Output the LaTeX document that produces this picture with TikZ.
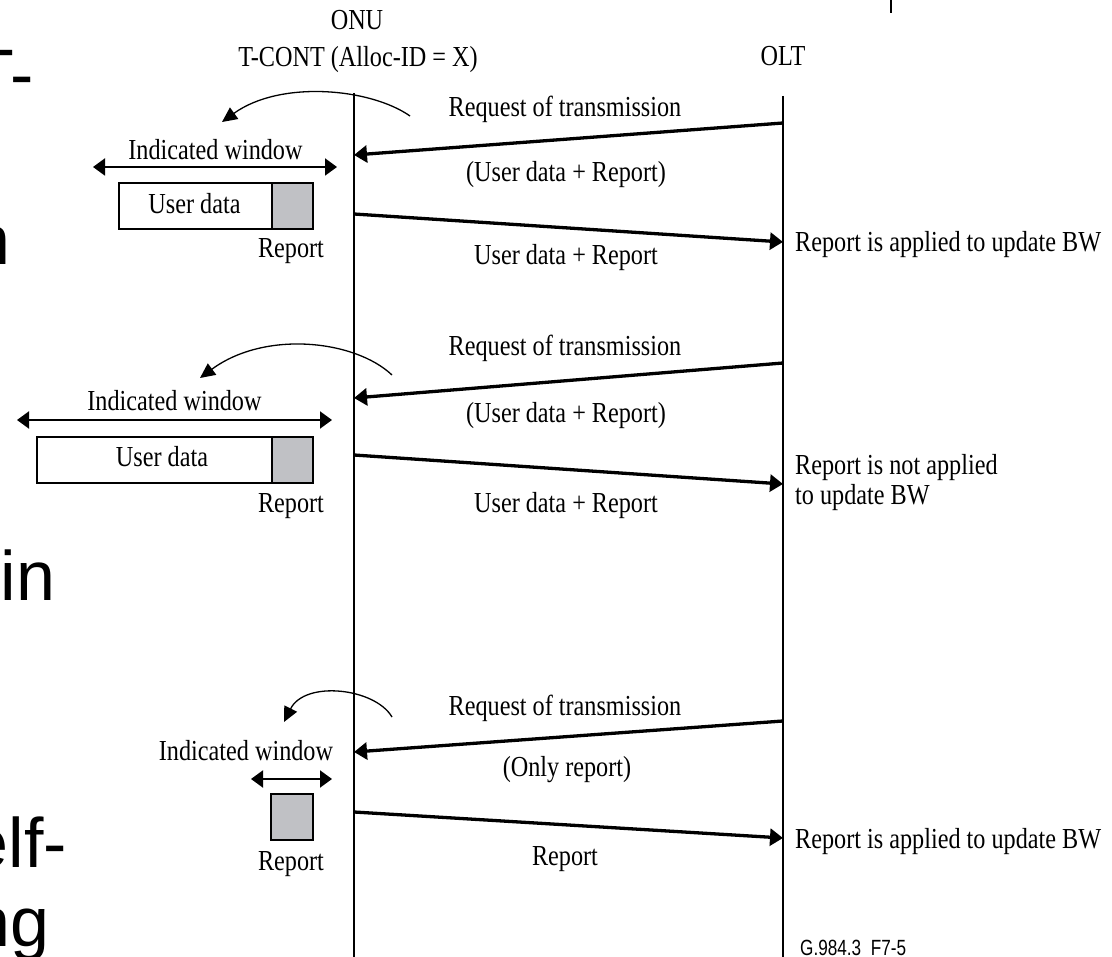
\documentclass[tikz,border=0pt]{standalone}
\usepackage{fontspec}
\setmainfont[FakeStretch=0.835]{Liberation Serif}
\newfontfamily\bigsans{Liberation Sans}
\newfontfamily\figsans[FakeStretch=0.78]{Liberation Sans}
\usetikzlibrary{arrows.meta}
\definecolor{rptgray}{RGB}{192,193,197}
\begin{document}
\begin{tikzpicture}[x=1pt,y=-1pt,
  lbl/.style={inner sep=0pt, anchor=base, font=\fontsize{29}{32}\selectfont},
  lblw/.style={lbl, anchor=base west},
  big/.style={inner sep=0pt, anchor=base west, font=\bigsans\fontsize{70}{80}\selectfont},
  life/.style={line width=1.5pt},
  msg/.style={line width=3.3pt, -{Triangle[length=13pt,width=17pt]}},
  turn/.style={line width=1.3pt, -{Triangle[length=15pt,width=14pt]}},
  win/.style={line width=2pt, {Triangle[length=12pt,width=17pt]}-{Triangle[length=12pt,width=17pt]}},
  databox/.style={draw, line width=2pt, fill=white},
  rptbox/.style={draw, line width=2pt, fill=rptgray}]
\useasboundingbox (0,0) rectangle (1112,957);
\clip (0,0) rectangle (1112,957);

% fragments of slide text at the left edge
\node[big] (f1) at (-29,99) {T-};
\node[big] (f2) at (-29,265) {n};
\node[big] (f3) at (0.3,600) {in};
\node[big] (f4) at (-30.6,867) {elf-};
\node[big] (f5) at (-29,946) {ng};

% small tick at the top
\coordinate (tk1) at (891,0);
\coordinate (tk2) at (891,13);
\draw[line width=1.5pt] (tk1) -- (tk2);

% headings
\node[lbl] (onu) at (357,30) {ONU};
\node[lbl] (tcont) at (358,67) {T-CONT (Alloc-ID = X)};
\node[lbl] (olt) at (783,66) {OLT};

% lifelines
\coordinate (onuTop) at (354,93);
\coordinate (onuBot) at (354,957);
\coordinate (oltTop) at (783,96);
\coordinate (oltBot) at (783,957);
\draw[life] (onuTop) -- (onuBot);
\draw[life] (oltTop) -- (oltBot);

% ---------- group 1 ----------
\coordinate (a1s) at (410,116);
\coordinate (a1e) at (222,122);
\draw[turn] (a1s) .. controls (370,88) and (280,80) .. (a1e);
\coordinate (q1o) at (783,123);
\coordinate (q1n) at (354,155);
\draw[msg] (q1o) -- (q1n);
\coordinate (d1n) at (354,214);
\coordinate (d1o) at (783,242);
\draw[msg] (d1n) -- (d1o);
\node[lbl] (req1) at (565,117) {Request of transmission};
\node[lbl] (ask1) at (566,182) {(User data + Report)};
\node[lbl] (snd1) at (566,265) {User data + Report};
\node[lblw] (res1) at (795,252) {Report is applied to update BW};
\node[lbl] (iw1) at (215.5,160) {Indicated window};
\coordinate (w1l) at (93,167);
\coordinate (w1r) at (337,167);
\draw[win] (w1l) -- (w1r);
\node[databox, minimum width=153pt, minimum height=46pt, inner sep=0pt, anchor=north west] (ud1) at (118,182) {};
\node[rptbox, minimum width=41pt, minimum height=46pt, inner sep=0pt, anchor=north west] (rp1) at (271,182) {};
\node[lbl] (udt1) at (194.5,214) {User data};
\node[lbl] (rpt1) at (291,258) {Report};

% ---------- group 2 ----------
\coordinate (a2s) at (392,375);
\coordinate (a2e) at (200,378);
\draw[turn] (a2s) .. controls (355,340) and (265,330) .. (a2e);
\coordinate (q2o) at (783,363);
\coordinate (q2n) at (354,398);
\draw[msg] (q2o) -- (q2n);
\coordinate (d2n) at (354,455);
\coordinate (d2o) at (783,484);
\draw[msg] (d2n) -- (d2o);
\node[lbl] (req2) at (565,356) {Request of transmission};
\node[lbl] (ask2) at (566,423) {(User data + Report)};
\node[lbl] (snd2) at (566,513) {User data + Report};
\node[lblw] (res2a) at (795,475) {Report is not applied};
\node[lblw] (res2b) at (795,505) {to update BW};
\node[lbl] (iw2) at (174.5,411) {Indicated window};
\coordinate (w2l) at (17,420);
\coordinate (w2r) at (332,420);
\draw[win] (w2l) -- (w2r);
\node[databox, minimum width=235pt, minimum height=46pt, inner sep=0pt, anchor=north west] (ud2) at (36,436) {};
\node[rptbox, minimum width=41pt, minimum height=46pt, inner sep=0pt, anchor=north west] (rp2) at (271,436) {};
\node[lbl] (udt2) at (162,467) {User data};
\node[lbl] (rpt2) at (291,513) {Report};

% ---------- group 3 ----------
\coordinate (a3s) at (392,717);
\coordinate (a3e) at (284,722);
\draw[turn] (a3s) .. controls (375,688) and (305,680) .. (a3e);
\coordinate (q3o) at (783,721);
\coordinate (q3n) at (354,752);
\draw[msg] (q3o) -- (q3n);
\coordinate (d3n) at (354,812);
\coordinate (d3o) at (783,838);
\draw[msg] (d3n) -- (d3o);
\node[lbl] (req3) at (565,715) {Request of transmission};
\node[lbl] (ask3) at (567,776) {(Only report)};
\node[lbl] (snd3) at (565,865) {Report};
\node[lblw] (res3) at (795,848) {Report is applied to update BW};
\node[lbl] (iw3) at (246,760) {Indicated window};
\coordinate (w3l) at (251,779);
\coordinate (w3r) at (332,779);
\draw[win] (w3l) -- (w3r);
\node[rptbox, minimum width=42pt, minimum height=46pt, inner sep=0pt, anchor=north west] (rp3) at (270,793) {};
\node[lbl] (rpt3) at (291,870) {Report};

% figure number
\node[inner sep=0pt, anchor=base west, font=\figsans\fontsize{22}{24}\selectfont] (fig) at (800,955) {G.984.3\ \ F7-5};
\end{tikzpicture}
\end{document}
